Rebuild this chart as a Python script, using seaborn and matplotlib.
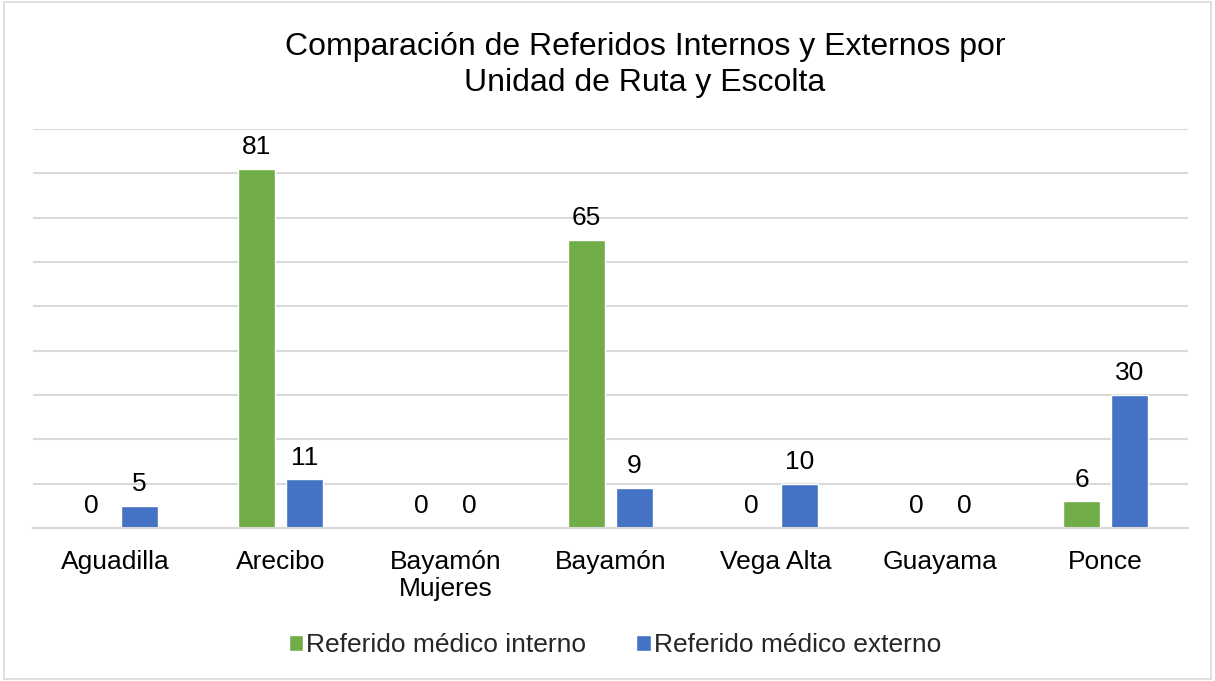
import matplotlib
matplotlib.use("Agg")
import matplotlib.pyplot as plt
import seaborn as sns
import pandas as pd
from matplotlib.patches import Rectangle

categories = ["Aguadilla", "Arecibo", "Bayamón\nMujeres", "Bayamón", "Vega Alta", "Guayama", "Ponce"]
series_names = ["Referido médico interno", "Referido médico externo"]
interno = [0, 81, 0, 65, 0, 0, 6]
externo = [5, 11, 0, 9, 10, 0, 30]
title = "Comparación de Referidos Internos y Externos por\nUnidad de Ruta y Escolta"

df = pd.DataFrame({
    "cat": categories * 2,
    "serie": [series_names[0]] * len(categories) + [series_names[1]] * len(categories),
    "val": interno + externo,
})

sns.set_theme(style="white")
plt.rcParams["font.family"] = ["Liberation Sans", "DejaVu Sans"]

fig = plt.figure(figsize=(12.15, 6.81), dpi=100)
ax = fig.add_axes([33 / 1215, 1 - 528 / 681, (1188 - 33) / 1215, (528 - 129) / 681])

palette = {series_names[0]: "#70AD47", series_names[1]: "#4472C4"}
sns.barplot(data=df, x="cat", y="val", hue="serie", order=categories,
            hue_order=series_names, palette=palette, width=0.58, gap=0.23,
            saturation=1, ax=ax, legend=True)

for cont in ax.containers:
    ax.bar_label(cont, fmt="%d", padding=7, fontsize=19, color="#000000")

ax.set_ylim(0, 90)
ax.set_yticks(range(0, 91, 10))
ax.yaxis.grid(True, color="#d9d9d9", linewidth=1.5)
ax.set_axisbelow(True)
ax.tick_params(axis="y", left=False, labelleft=False)
ax.tick_params(axis="x", bottom=False, labelsize=19, pad=10, colors="#000000")
for lbl in ax.get_xticklabels():
    lbl.set_linespacing(1.15)
for s in ["top", "left", "right"]:
    ax.spines[s].set_visible(False)
ax.spines["bottom"].set_color("#d9d9d9")
ax.spines["bottom"].set_linewidth(1.5)
ax.set_xlabel("")
ax.set_ylabel("")
ax.set_xlim(-0.5, len(categories) - 0.5)

handles, labels = ax.get_legend_handles_labels()
ax.legend_.remove()
fig.legend(handles, labels, loc="center", bbox_to_anchor=(615 / 1215, 1 - 645 / 681), ncol=2,
           frameon=False, fontsize=19, handlelength=0.55, handleheight=0.55,
           handletextpad=0.12, columnspacing=1.9)

fig.text(645 / 1215, 1 - 65 / 681, title, ha="center", va="center", fontsize=23,
         color="#000000", linespacing=1.3)

fig.patches.append(Rectangle((0.003, 0.003), 0.994, 0.994, transform=fig.transFigure,
                             fill=False, edgecolor="#d9d9d9", linewidth=1.2))

fig.savefig("out.png", dpi=100, facecolor="white")
